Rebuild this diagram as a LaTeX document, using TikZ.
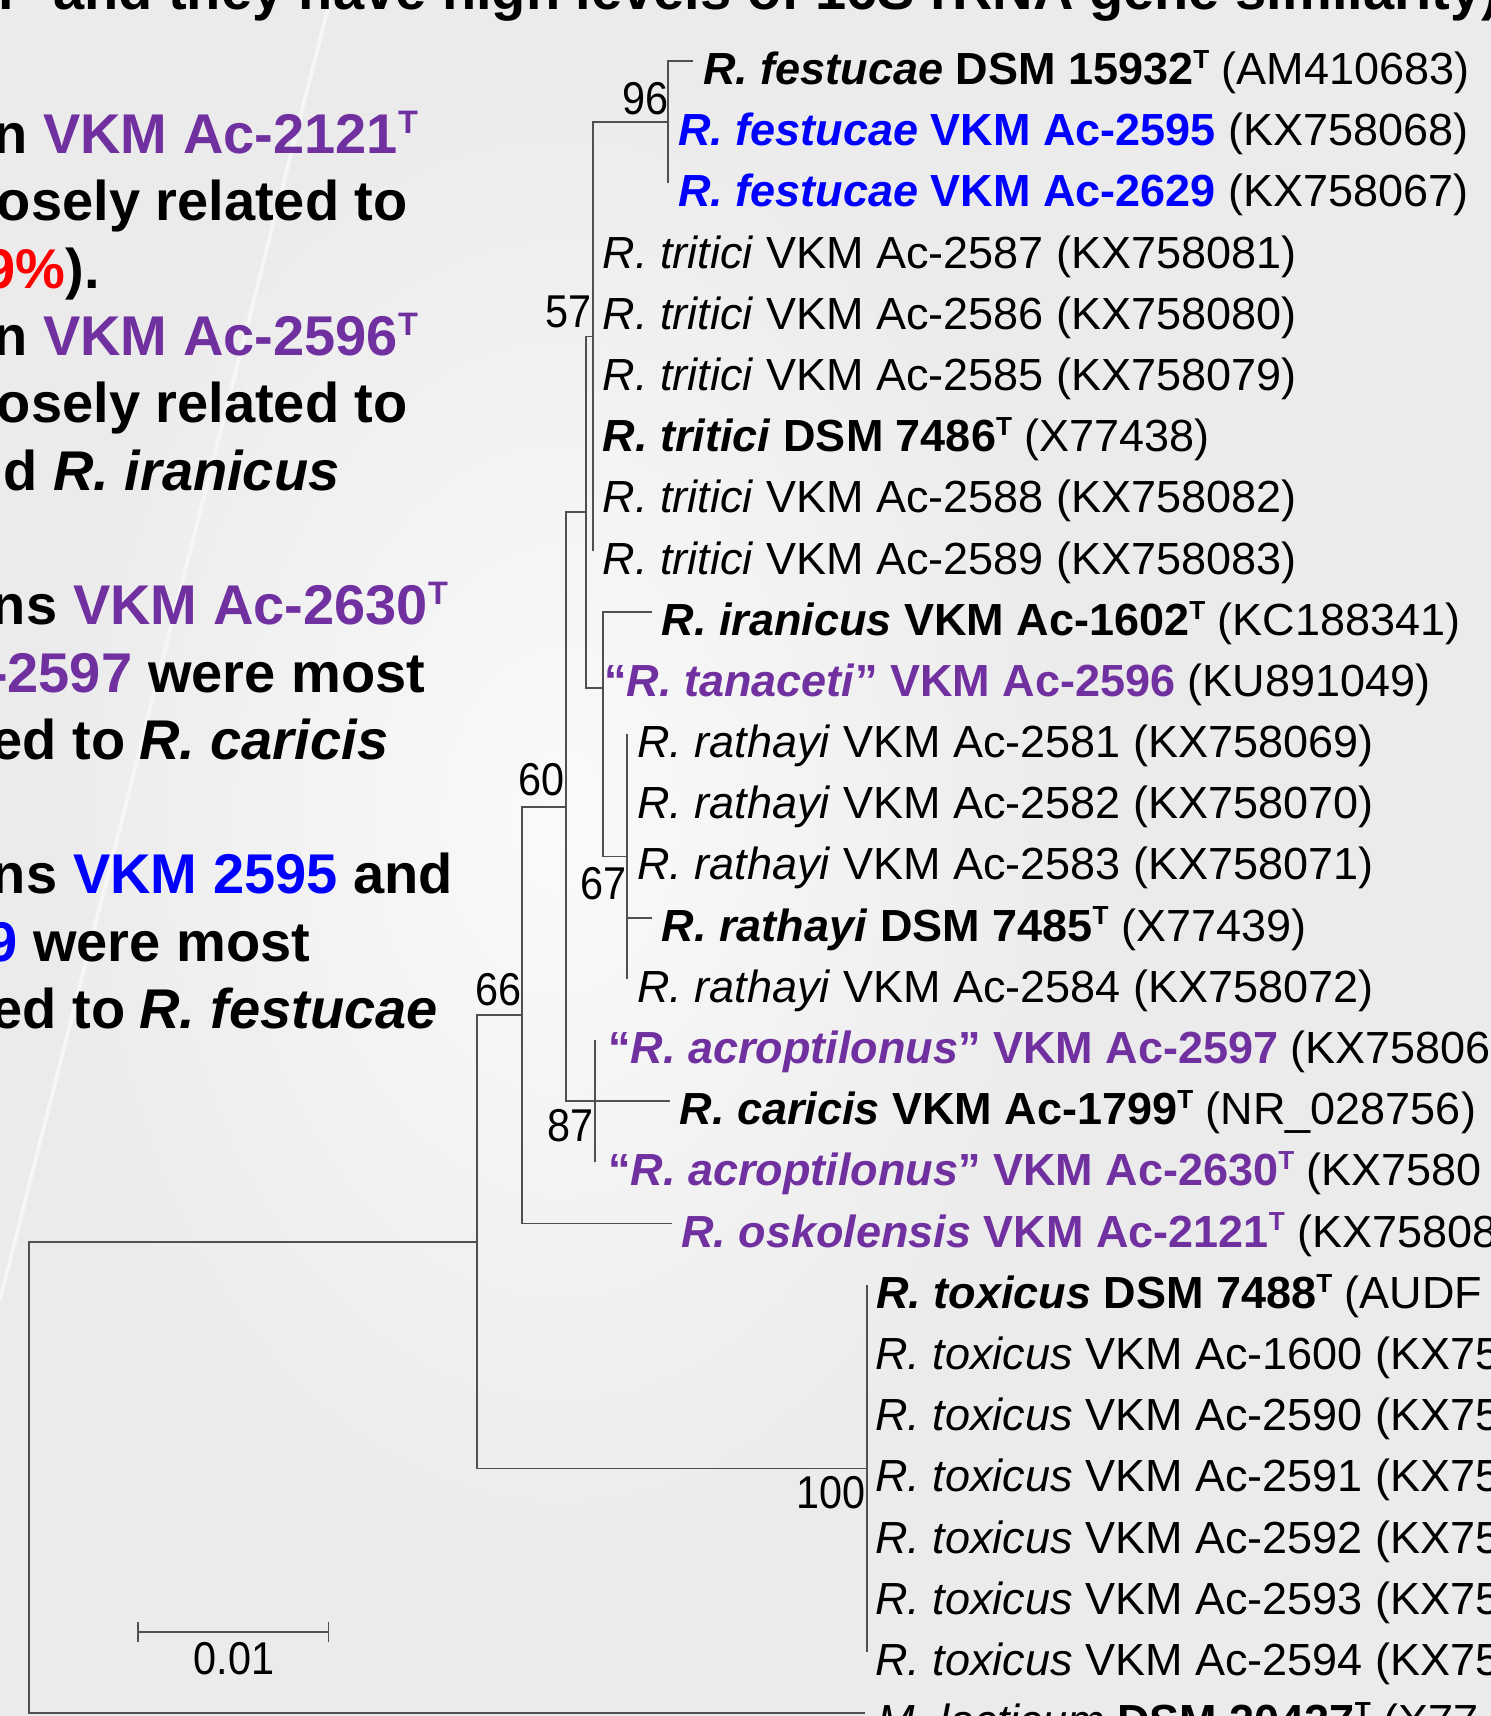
\documentclass[tikz,border=0pt]{standalone}
\usepackage{fontspec}
\setmainfont{Liberation Sans}
\definecolor{purp}{RGB}{112,48,160}
\definecolor{blu}{RGB}{0,0,255}
\definecolor{redc}{RGB}{255,0,0}
\definecolor{treecol}{RGB}{80,80,80}
\definecolor{bgc}{RGB}{235,235,235}
\newcommand{\RY}[1]{(61+61.19*(#1))}
\newcommand{\tsup}{\raisebox{0.36em}{\scalebox{0.58}{T}}}
\newcommand{\bv}[1]{\scalebox{0.9}[1]{#1}}
\newcommand{\leaffont}{\fontsize{45}{54}\selectfont}
\newcommand{\bootfont}{\fontsize{46}{55}\selectfont}
\newcommand{\bigfont}{\fontsize{56}{67}\selectfont\bfseries}
\begin{document}
\begin{tikzpicture}[x=1pt,y=-1pt,
  leaf/.style={anchor=base west,inner sep=0pt,font=\leaffont},
  boot/.style={anchor=base east,inner sep=0pt,font=\bootfont},
  bigl/.style={anchor=base west,inner sep=0pt,font=\bigfont},
  bigr/.style={anchor=base east,inner sep=0pt,font=\bigfont},
  br/.style={draw=treecol,line width=1.7pt}]
\useasboundingbox (0,0) rectangle (1491,1716);
\clip (0,0) rectangle (1491,1716);
\fill[bgc] (0,0) rectangle (1491,1716);
\shade[inner color=white!75!bgc, outer color=bgc] (560,820) ellipse (520 and 760);
\draw[white!55!bgc,line width=4pt] (330,0) -- (0,1300);

% heading fragment
\node[bigl] (top1) at (-2,9.5) {r};
\node[bigl] (top2) at (53,9.5) {and they have high levels of 16S rRNA gene similarity)};

% left text
\node[bigr] (a0) at (27.5,153.6) {n};
\node[bigl,text=purp] (b0) at (43,153.6) {VKM Ac-2121\tsup};
\node[bigr] (a1) at (408,220.9) {osely related to};
\node[bigr] (a2) at (100,288.2) {\textcolor{redc}{9\%}).};
\node[bigr] (a3) at (27.5,355.5) {n};
\node[bigl,text=purp] (b3) at (43,355.5) {VKM Ac-2596\tsup};
\node[bigr] (a4) at (408,422.8) {osely related to};
\node[bigr] (a5) at (37.5,490.1) {d};
\node[bigl] (b5) at (53,490.1) {\itshape R. iranicus};
\node[bigr] (a7) at (57.5,624.7) {ns};
\node[bigl,text=purp] (b7) at (73,624.7) {VKM Ac-2630\tsup};
\node[bigr,text=purp] (a8) at (132.5,692) {-2597};
\node[bigl] (b8) at (148,692) {were most};
\node[bigr] (a9) at (125.5,759.3) {ed to};
\node[bigl] (b9) at (139,759.3) {\itshape R. caricis};
\node[bigr] (a11) at (57.5,893.9) {ns};
\node[bigl] (b11) at (73,893.9) {\textcolor{blu}{VKM 2595} and};
\node[bigr,text=blu] (a12) at (17.5,961.2) {9};
\node[bigl] (b12) at (33,961.2) {were most};
\node[bigr] (a13) at (125.5,1028.5) {ed to};
\node[bigl] (b13) at (139,1028.5) {\itshape R. festucae};

% leaf labels
\node[leaf] (l0) at (703,{\RY{0}+23.5}) {\textbf{\textit{R. festucae} DSM 15932\tsup} (AM410683)};
\node[leaf] (l1) at (678,{\RY{1}+23.5}) {\textcolor{blu}{\textbf{\textit{R. festucae} VKM Ac-2595}} (KX758068)};
\node[leaf] (l2) at (678,{\RY{2}+23.5}) {\textcolor{blu}{\textbf{\textit{R. festucae} VKM Ac-2629}} (KX758067)};
\node[leaf] (l3) at (602.5,{\RY{3}+23.5}) {\textit{R. tritici} VKM Ac-2587 (KX758081)};
\node[leaf] (l4) at (602.5,{\RY{4}+23.5}) {\textit{R. tritici} VKM Ac-2586 (KX758080)};
\node[leaf] (l5) at (602.5,{\RY{5}+23.5}) {\textit{R. tritici} VKM Ac-2585 (KX758079)};
\node[leaf] (l6) at (602.5,{\RY{6}+23.5}) {\textbf{\textit{R. tritici} DSM 7486\tsup} (X77438)};
\node[leaf] (l7) at (602.5,{\RY{7}+23.5}) {\textit{R. tritici} VKM Ac-2588 (KX758082)};
\node[leaf] (l8) at (602.5,{\RY{8}+23.5}) {\textit{R. tritici} VKM Ac-2589 (KX758083)};
\node[leaf] (l9) at (661.5,{\RY{9}+23.5}) {\textbf{\textit{R. iranicus} VKM Ac-1602\tsup} (KC188341)};
\node[leaf] (l10) at (604,{\RY{10}+23.5}) {\textcolor{purp}{\textbf{“\textit{R. tanaceti}” VKM Ac-2596}} (KU891049)};
\node[leaf] (l11) at (637,{\RY{11}+23.5}) {\textit{R. rathayi} VKM Ac-2581 (KX758069)};
\node[leaf] (l12) at (637,{\RY{12}+23.5}) {\textit{R. rathayi} VKM Ac-2582 (KX758070)};
\node[leaf] (l13) at (637,{\RY{13}+23.5}) {\textit{R. rathayi} VKM Ac-2583 (KX758071)};
\node[leaf] (l14) at (661.5,{\RY{14}+23.5}) {\textbf{\textit{R. rathayi} DSM 7485\tsup} (X77439)};
\node[leaf] (l15) at (637,{\RY{15}+23.5}) {\textit{R. rathayi} VKM Ac-2584 (KX758072)};
\node[leaf] (l16) at (608,{\RY{16}+23.5}) {\textcolor{purp}{\textbf{“\textit{R. acroptilonus}” VKM Ac-2597}} (KX75806};
\node[leaf] (l17) at (679.5,{\RY{17}+23.5}) {\textbf{\textit{R. caricis} VKM Ac-1799\tsup} (NR\_028756)};
\node[leaf] (l18) at (608,{\RY{18}+23.5}) {\textcolor{purp}{\textbf{“\textit{R. acroptilonus}” VKM Ac-2630\tsup}} (KX7580};
\node[leaf] (l19) at (681,{\RY{19}+23.5}) {\textcolor{purp}{\textbf{\textit{R. oskolensis} VKM Ac-2121\tsup}} (KX75808};
\node[leaf] (l20) at (876,{\RY{20}+23.5}) {\textbf{\textit{R. toxicus} DSM 7488\tsup} (AUDF};
\node[leaf] (l21) at (875,{\RY{21}+23.5}) {\textit{R. toxicus} VKM Ac-1600 (KX75};
\node[leaf] (l22) at (875,{\RY{22}+23.5}) {\textit{R. toxicus} VKM Ac-2590 (KX75};
\node[leaf] (l23) at (875,{\RY{23}+23.5}) {\textit{R. toxicus} VKM Ac-2591 (KX75};
\node[leaf] (l24) at (875,{\RY{24}+23.5}) {\textit{R. toxicus} VKM Ac-2592 (KX75};
\node[leaf] (l25) at (875,{\RY{25}+23.5}) {\textit{R. toxicus} VKM Ac-2593 (KX75};
\node[leaf] (l26) at (875,{\RY{26}+23.5}) {\textit{R. toxicus} VKM Ac-2594 (KX75};
\node[leaf] (l27) at (877,{\RY{27}+23.5}) {\textit{M. lacticum} \textbf{DSM 20427\tsup} (X77};

% tree coordinates
\coordinate (t0) at (693,{\RY{0}});
\coordinate (n96b) at (667.7,{\RY{2}});
\coordinate (n96) at (667.7,{\RY{1}});
\coordinate (n57t) at (593,{\RY{1}});
\coordinate (n57b) at (593,{\RY{8}});
\coordinate (n57) at (593,336.35);
\coordinate (nAt) at (585.7,336.35);
\coordinate (nA) at (585.7,512.3);
\coordinate (nAb) at (585.7,688.3);
\coordinate (nB) at (602.7,688.3);
\coordinate (t9) at (652,{\RY{9}});
\coordinate (nBb) at (602.7,856.5);
\coordinate (nBx1) at (603.6,672);
\coordinate (nBx2) at (603.6,763);
\coordinate (n67) at (626.7,856.5);
\coordinate (n67t) at (626.7,{\RY{11}});
\coordinate (n67b) at (626.7,{\RY{15}});
\coordinate (n67c) at (626.7,{\RY{14}});
\coordinate (t14) at (652,{\RY{14}});
\coordinate (n60t) at (565.7,512.3);
\coordinate (n60) at (565.7,806.75);
\coordinate (n60b) at (565.7,{\RY{17}});
\coordinate (t17) at (670,{\RY{17}});
\coordinate (n87t) at (595,{\RY{16}});
\coordinate (n87b) at (595,{\RY{18}});
\coordinate (n66t) at (521.7,806.75);
\coordinate (n66) at (521.7,1015.2);
\coordinate (n66b) at (521.7,{\RY{19}});
\coordinate (t19) at (671.6,{\RY{19}});
\coordinate (nRt) at (477,1015.2);
\coordinate (nR) at (477,1241.8);
\coordinate (nRb) at (477,1468.4);
\coordinate (n100) at (866.8,1468.4);
\coordinate (n100t) at (866.8,{\RY{20}});
\coordinate (n100b) at (866.8,{\RY{26}});
\coordinate (rt) at (28.7,1241.8);
\coordinate (rb) at (28.7,{\RY{27}});
\coordinate (t27) at (865,{\RY{27}});

% branches
\draw[br] (t0) -| (n96b);
\draw[br] (n96) -- (n57t) -- (n57b);
\draw[br] (n57) -- (nAt) -- (nAb) -- (nB);
\draw[br] (t9) -| (nBb) -- (n67);
\draw[br] (nBx1) -- (nBx2);
\draw[br] (n67t) -- (n67b);
\draw[br] (n67c) -- (t14);
\draw[br] (nA) -- (n60t) -- (n60b) -- (t17);
\draw[br] (n87t) -- (n87b);
\draw[br] (n60) -- (n66t) -- (n66b) -- (t19);
\draw[br] (n66) -- (nRt) -- (nRb) -- (n100);
\draw[br] (n100t) -- (n100b);
\draw[br] (nR) -- (rt) -- (rb) -- (t27);

% bootstrap values
\node[boot] (b96) at (669,114.6) {\bv{96}};
\node[boot] (b57) at (591.5,327) {\bv{57}};
\node[boot] (b60) at (565,795.6) {\bv{60}};
\node[boot] (b67) at (627,899) {\bv{67}};
\node[boot] (b66) at (522,1005) {\bv{66}};
\node[boot] (b87) at (593.5,1141.8) {\bv{87}};
\node[boot] (b100) at (866,1508) {\bv{100}};

% scale bar
\coordinate (s1) at (137.8,1632);
\coordinate (s2) at (328.4,1632);
\draw[br] (s1) -- (s2);
\draw[br] ([yshift=-10.3pt]s1) -- ([yshift=10pt]s1);
\draw[br] ([yshift=-10.3pt]s2) -- ([yshift=10pt]s2);
\node[boot,anchor=base] (sl) at (234,1674) {\bv{0.01}};
\end{tikzpicture}
\end{document}
